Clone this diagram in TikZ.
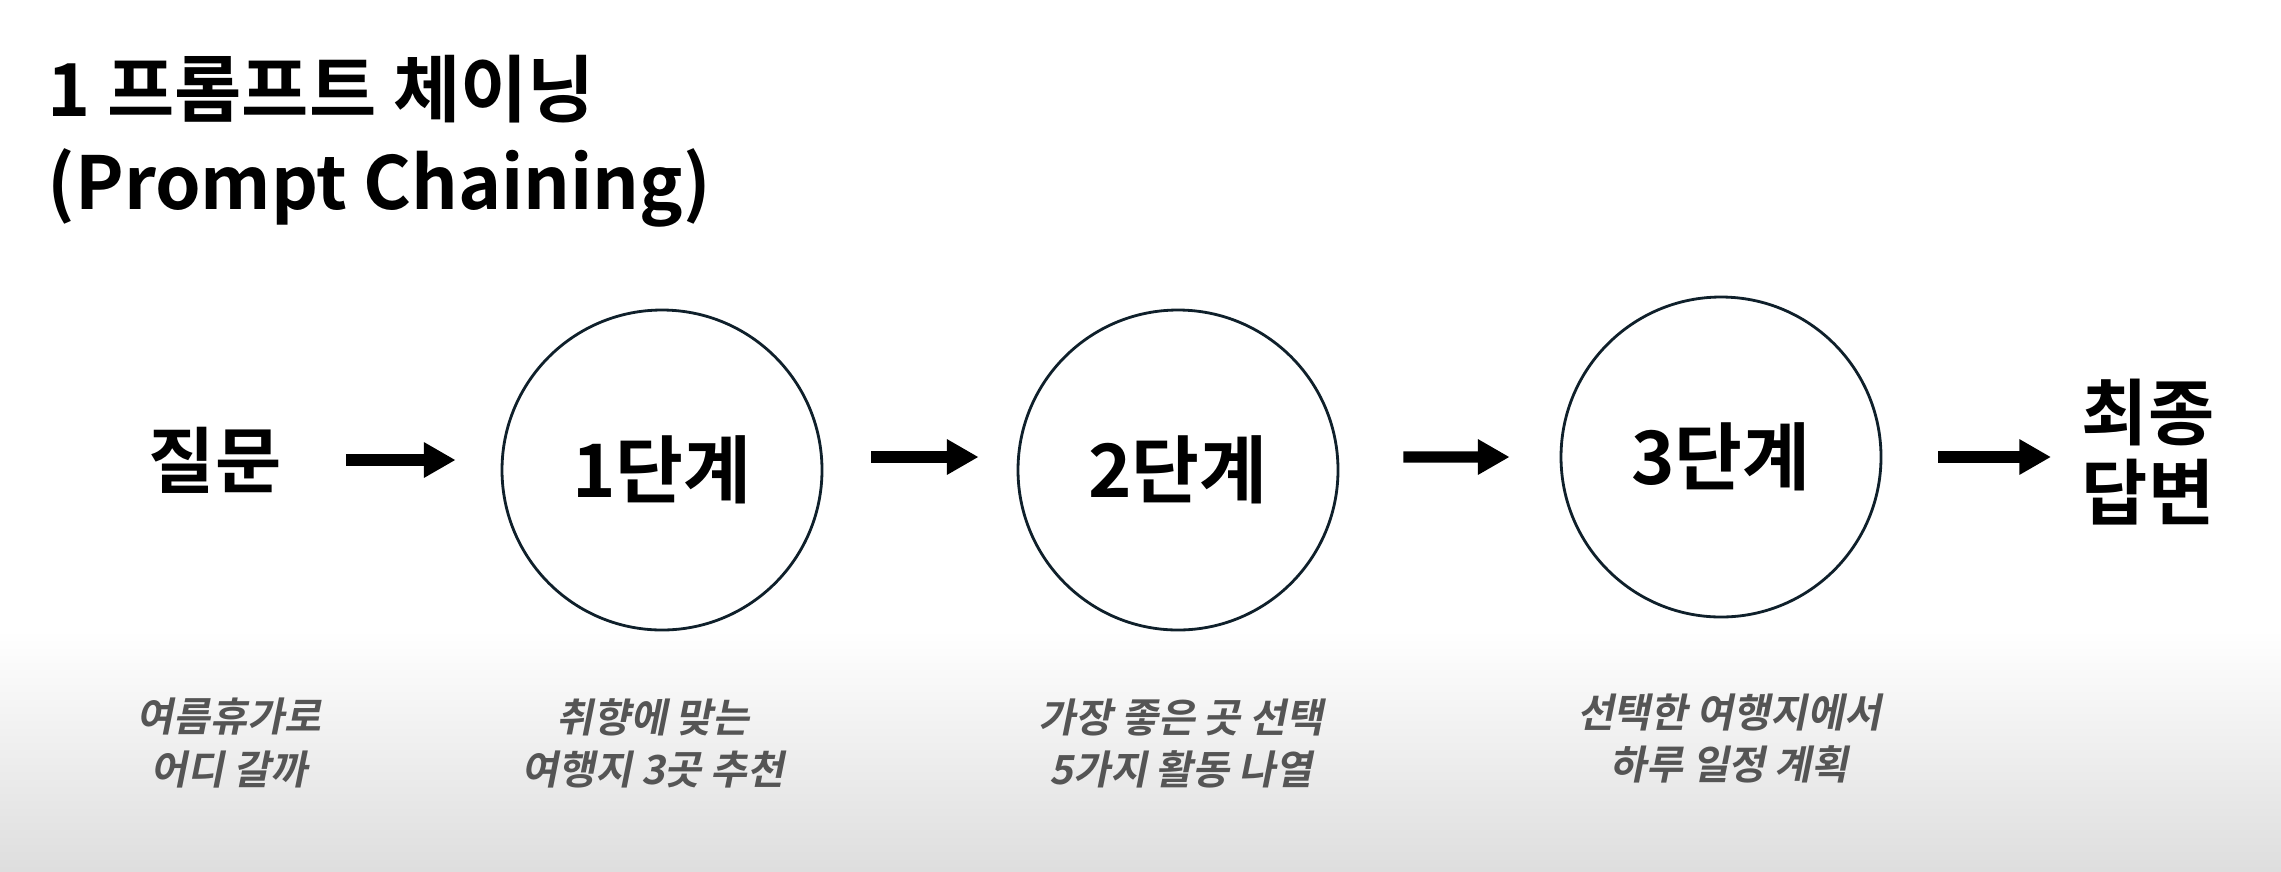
\documentclass[tikz,border=0pt]{standalone}
\usepackage{fontspec}
\setmainfont{Noto Sans CJK KR Bold}
\newfontfamily\notefont{Noto Sans CJK KR Bold}[FakeSlant=0.2]
\usetikzlibrary{arrows.meta,positioning}

\definecolor{ringline}{HTML}{0F202B}
\definecolor{notegray}{HTML}{555555}

\begin{document}
\begin{tikzpicture}[
    headline/.style={inner sep=0pt, align=left, font=\fontsize{20.8}{26.2}\selectfont},
    stage/.style={draw=ringline, line width=0.8pt, circle, minimum size=3.2cm,
                  inner sep=0pt, font=\fontsize{21}{25}\selectfont},
    endpt/.style={inner sep=0pt, align=center, font=\fontsize{20.5}{22.8}\selectfont},
    note/.style={inner sep=0pt, align=center, text=notegray,
                 font=\notefont\fontsize{11.4}{14.8}\selectfont},
    arrow/.style={-{Triangle[length=9pt,width=9.5pt]}, line width=3.2pt},
  ]
  \useasboundingbox (0,0) rectangle (22.81,-8.71);
  \fill[white] (0,0) rectangle (22.81,-8.71);
  \shade[top color=white, bottom color=black!13] (0,-6.3) rectangle (22.81,-8.71);

  \node[headline, anchor=base west] (ttl) at (0.47,-2.09) {1 프롬프트 체이닝\\(Prompt Chaining)};

  \node[endpt] (q)   at (2.15,-4.60)  {질문};
  \node[stage] (c1)  at (6.62,-4.70)  {1단계};
  \node[stage] (c2)  at (11.78,-4.70) {2단계};
  \node[stage] (c3)  at (17.21,-4.57) {3단계};
  \node[endpt] (ans) at (21.48,-4.52) {최종\\답변};

  \draw[arrow, shorten <=0.64cm, shorten >=0.45cm] (q.east) -- (q.east -| c1.west);
  \draw[arrow, shorten <=0.48cm, shorten >=0.38cm] ([yshift=1.3mm]c1.east) -- ([yshift=1.3mm]c2.west);
  \draw[arrow, shorten <=0.64cm, shorten >=0.50cm] ([yshift=1.3mm]c2.east) -- (c3.west);
  \draw[arrow, shorten <=0.56cm, shorten >=0.30cm] (c3.east) -- (c3.east -| ans.west);

  \node[note] (n0) at (2.29,-7.43)  {여름휴가로\\어디 갈까};
  \node[note] (n1) at (6.53,-7.43)  {취향에 맞는\\여행지 3곳 추천};
  \node[note] (n2) at (11.81,-7.43) {가장 좋은 곳 선택\\5가지 활동 나열};
  \node[note] (n3) at (17.29,-7.38) {선택한 여행지에서\\하루 일정 계획};
\end{tikzpicture}
\end{document}
